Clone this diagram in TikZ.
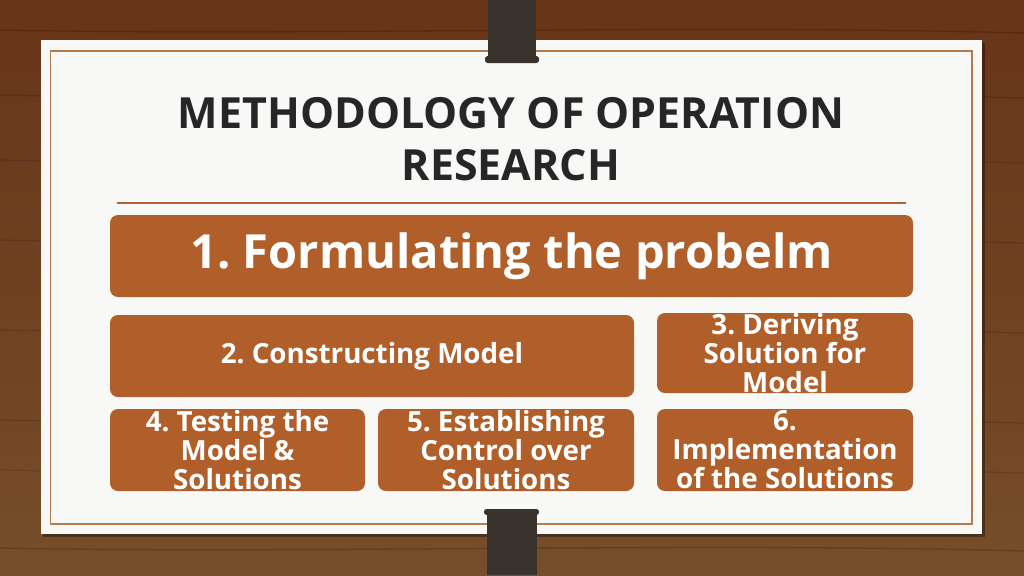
\documentclass[tikz,border=0pt]{standalone}
\usepackage{fontspec}
\setmainfont{Open Sans}
\frenchspacing
\definecolor{woodA}{RGB}{104,52,24}
\definecolor{woodB}{RGB}{118,78,42}
\definecolor{paper}{RGB}{248,248,247}
\definecolor{boxfill}{RGB}{177,95,42}
\definecolor{titlecol}{RGB}{38,38,38}
\definecolor{bordercol}{RGB}{182,122,78}
\definecolor{rulecol}{RGB}{176,100,52}
\definecolor{clipcol}{RGB}{58,50,44}
\tikzset{
  stepbox/.style={draw=none, fill=boxfill, rounded corners=6pt, inner sep=0pt},
  boxtext/.style={text=white, font=\bfseries, align=center, inner sep=0pt},
  smalltext/.style={boxtext, font=\fontsize{20.8pt}{21.8pt}\selectfont\bfseries},
}
\begin{document}
\begin{tikzpicture}[x=0.75pt,y=-0.75pt]
\useasboundingbox (0,0) rectangle (1024,575);
% wood background
\shade[top color=woodA, bottom color=woodB] (0,0) rectangle (1024,575);
\foreach \yy/\op in {30/0.18,95/0.14,160/0.1,240/0.14,330/0.12,420/0.14,470/0.1,548/0.18}{
  \draw[black, opacity=\op, line width=1pt] (0,\yy) .. controls (300,\yy+6) and (700,\yy-6) .. (1024,\yy+3);
}
% paper
\fill[black, opacity=0.35] (43,43) rectangle (985,537);
\fill[paper] (40.7,40) rectangle (982,534);
\draw[bordercol, line width=1.1pt] (50.7,51) rectangle (972,524);
% clips
\fill[clipcol] (488,0) rectangle (536,60);
\fill[clipcol, rounded corners=2pt] (485,56) rectangle (539,63);
\fill[clipcol, rounded corners=2pt] (484,509) rectangle (539,515);
\fill[clipcol] (487,512) rectangle (537,575);
% title
\node[text=titlecol, font=\fontsize{32.2pt}{39pt}\selectfont\bfseries, align=center, inner sep=0pt]
  (title) at (511,139) {METHODOLOGY OF OPERATION\\RESEARCH};
\coordinate (ruleL) at (117,203);
\coordinate (ruleR) at (906,203);
\draw[rulecol, line width=1pt] (ruleL) -- (ruleR);
% boxes
\node[stepbox, minimum width=602.25pt, minimum height=61.5pt] (b1) at (511.5,256) {};
\node[stepbox, minimum width=393pt, minimum height=61.5pt] (b2) at (372,356) {};
\node[stepbox, minimum width=192pt, minimum height=60pt] (b3) at (785,353) {};
\node[stepbox, minimum width=191.25pt, minimum height=61.5pt] (b4) at (237.5,450) {};
\node[stepbox, minimum width=192pt, minimum height=61.5pt] (b5) at (506,450) {};
\node[stepbox, minimum width=192pt, minimum height=61.5pt] (b6) at (785,450) {};
% texts
\node[boxtext, font=\fontsize{35.3pt}{40pt}\selectfont\bfseries] (t1) at (b1) {1. Formulating the probelm};
\node[smalltext] (t2) at (b2) {2. Constructing Model};
\node[smalltext] (t3) at (b3) {3. Deriving\\Solution for\\Model};
\node[smalltext] (t4) at (b4) {4. Testing the\\Model \&\\Solutions};
\node[smalltext] (t5) at (b5) {5. Establishing\\Control over\\Solutions};
\node[smalltext] (t6) at (b6) {6.\\Implementation\\of the Solutions};
\end{tikzpicture}
\end{document}
